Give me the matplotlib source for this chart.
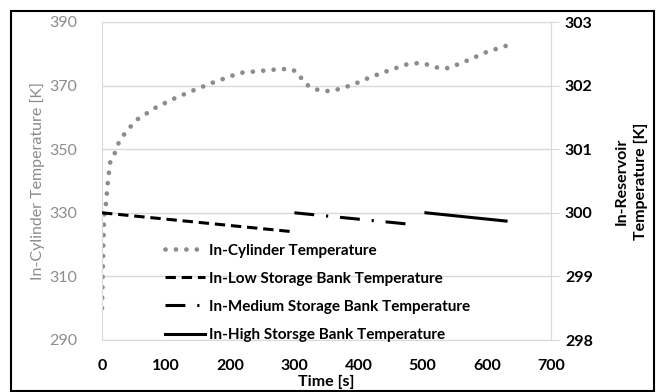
import matplotlib
matplotlib.use("Agg")
import matplotlib.pyplot as plt
from matplotlib.patches import Rectangle

plt.rcParams['font.family'] = ['Lato', 'DejaVu Sans']

# In-cylinder temperature (left axis)
cyl_t = [0, 1, 2, 3, 4, 6, 9, 12.5, 20, 25, 34, 44, 56, 83, 111, 140, 171, 215, 231,
         278, 295, 306, 314, 327, 343, 359, 374, 390, 418, 449, 477, 495, 510, 525,
         541, 556, 571, 600, 630]
cyl_T = [300, 310, 320, 327, 330, 332.5, 339.4, 345.7, 348.8, 351.6, 354.5, 357, 359.5,
         363, 365.8, 368.3, 370.8, 374, 374.3, 375.2, 375.2, 374, 371.1, 369.2, 368.3,
         368.3, 369.2, 370.2, 372.6, 374.9, 376.8, 377.1, 376.5, 375.5, 375.5, 376.8,
         378, 380.6, 382.5]

# Storage bank temperatures (right axis)
low_t = [0, 300]
low_T = [300.0, 299.7]
med_t = [300, 490]
med_T = [300.0, 299.81]
high_t = [505, 630]
high_T = [300.0, 299.87]

labels = ["In-Cylinder Temperature", "In-Low Storage Bank Temperature",
          "In-Medium Storage Bank Temperature", "In-High Storsge Bank Temperature"]
x_ticks = [0, 100, 200, 300, 400, 500, 600, 700]
left_ticks = [290, 310, 330, 350, 370, 390]
right_ticks = [298, 299, 300, 301, 302, 303]

fig = plt.figure(figsize=(6.6, 3.92), dpi=100)
ax = fig.add_axes([102/660, 1-340/392, 449/660, 318/392])
ax2 = ax.twinx()

grid_c = '#d9d9d9'
gray_txt = '#8c8c8c'

l1, = ax.plot(cyl_t, cyl_T, color='#8c8c8c', lw=3.4, linestyle=(0, (0.01, 2.2)),
              dash_capstyle='round', label=labels[0])
l2, = ax2.plot(low_t, low_T, color='black', lw=2.2, linestyle=(0, (3.4, 1.9)),
               label=labels[1])
l3, = ax2.plot(med_t, med_T, color='black', lw=2.2,
               linestyle=(0, (6.5, 3.9, 0.7, 3.9)), label=labels[2])
l4, = ax2.plot(high_t, high_T, color='black', lw=2.2, linestyle='-', label=labels[3])

ax.set_xlim(0, 700)
ax.set_ylim(290, 390)
ax2.set_ylim(298, 303)
ax.set_xticks(x_ticks)
ax.set_yticks(left_ticks)
ax2.set_yticks(right_ticks)

ax.grid(axis='y', color=grid_c, lw=1)
ax.set_axisbelow(True)
for a in (ax, ax2):
    for s in a.spines.values():
        s.set_visible(False)
ax2.spines['right'].set_visible(True)
ax2.spines['right'].set_color(grid_c)
ax.spines['left'].set_visible(True)
ax.spines['left'].set_color(grid_c)
ax.spines['bottom'].set_visible(True)
ax.spines['bottom'].set_color(grid_c)

ax.tick_params(axis='x', length=0, pad=14, labelsize=11.5, labelcolor='black')
ax.tick_params(axis='y', length=0, pad=18, labelsize=11.5, labelcolor=gray_txt)
ax2.tick_params(axis='y', length=6, color=grid_c, pad=4, labelsize=11.5, labelcolor='black')
for lab in ax.get_xticklabels():
    lab.set_fontweight('bold')
for lab in ax2.get_yticklabels():
    lab.set_fontweight('bold')

ax.set_xlabel('Time [s]', fontsize=11.5, fontweight='bold', labelpad=1)
ax.set_ylabel('In-Cylinder Temperature [K]', fontsize=11.5, color=gray_txt, labelpad=3)
ax2.set_ylabel('In-Reservoir\nTemperature [K]', fontsize=11.5, fontweight='bold',
               labelpad=16, linespacing=1.45)

leg = ax2.legend(handles=[l1, l2, l3, l4], loc='upper left',
                 bbox_to_anchor=(0.127, 0.322), frameon=False, handlelength=2.6,
                 handletextpad=0.25, labelspacing=0.92, fontsize=11, borderaxespad=0)
for t in leg.get_texts():
    t.set_fontweight('bold')

fig.patches.append(Rectangle((11/660, 1/392), 643/660, 380/392, transform=fig.transFigure,
                             fill=False, edgecolor='black', lw=1.5))

fig.savefig('out.png', dpi=100)
